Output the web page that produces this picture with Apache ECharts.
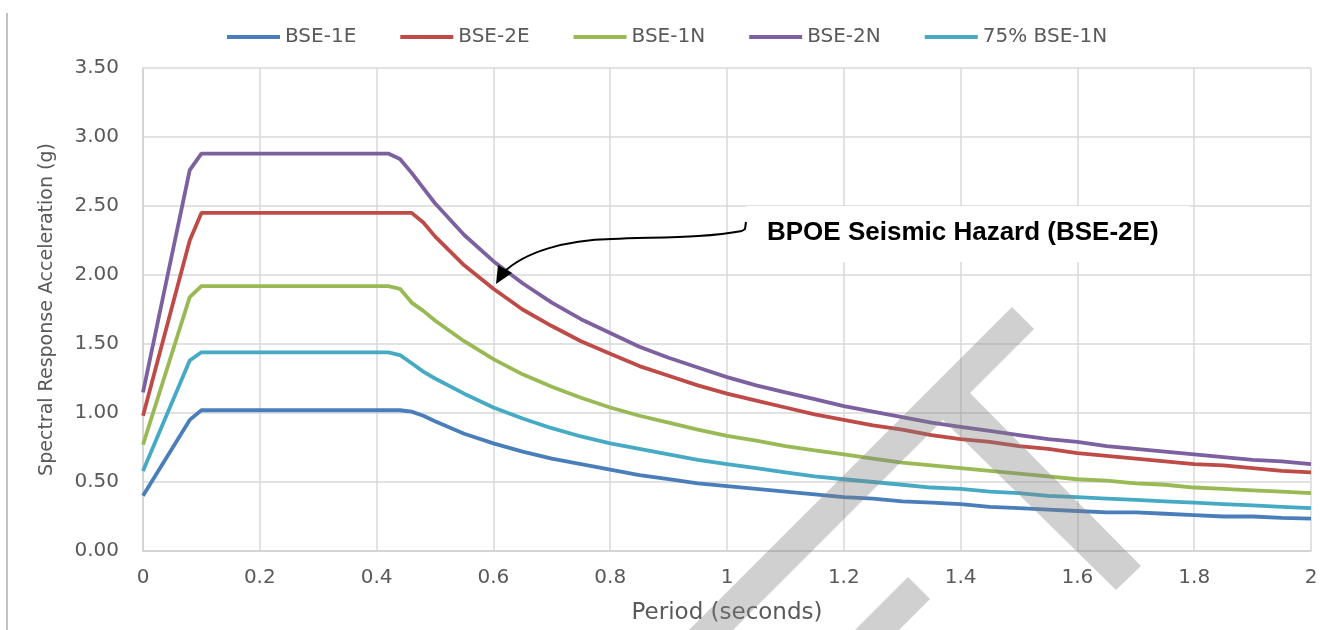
<!DOCTYPE html>
<html>
<head>
<meta charset="utf-8">
<script src="https://cdn.jsdelivr.net/npm/echarts@6/dist/echarts.min.js"></script>
<style>
html,body{margin:0;padding:0;background:#fff;}
#chart{width:1336px;height:630px;}
</style>
</head>
<body>
<div id="chart"></div>
<script>
// Period (seconds)
var periods = [0, 0.08, 0.1, 0.42, 0.44, 0.46, 0.48, 0.5, 0.55, 0.6, 0.65, 0.7, 0.75, 0.8, 0.85, 0.9, 0.95, 1.0, 1.05, 1.1, 1.15, 1.2, 1.25, 1.3, 1.35, 1.4, 1.45, 1.5, 1.55, 1.6, 1.65, 1.7, 1.75, 1.8, 1.85, 1.9, 1.95, 2.0];
var seriesNames = ['BSE-1E', 'BSE-2E', 'BSE-1N', 'BSE-2N', '75% BSE-1N'];
var bse1e = [0.40, 0.95, 1.02, 1.02, 1.02, 1.01, 0.98, 0.94, 0.85, 0.78, 0.72, 0.67, 0.63, 0.59, 0.55, 0.52, 0.49, 0.47, 0.45, 0.43, 0.41, 0.39, 0.38, 0.36, 0.35, 0.34, 0.32, 0.31, 0.30, 0.29, 0.28, 0.28, 0.27, 0.26, 0.25, 0.25, 0.24, 0.235];
var bse2e = [0.98, 2.25, 2.45, 2.45, 2.45, 2.45, 2.38, 2.28, 2.07, 1.90, 1.75, 1.63, 1.52, 1.43, 1.34, 1.27, 1.20, 1.14, 1.09, 1.04, 0.99, 0.95, 0.91, 0.88, 0.84, 0.81, 0.79, 0.76, 0.74, 0.71, 0.69, 0.67, 0.65, 0.63, 0.62, 0.60, 0.58, 0.57];
var bse1n = [0.77, 1.84, 1.92, 1.92, 1.90, 1.80, 1.74, 1.67, 1.52, 1.39, 1.28, 1.19, 1.11, 1.04, 0.98, 0.93, 0.88, 0.835, 0.80, 0.76, 0.73, 0.70, 0.67, 0.64, 0.62, 0.60, 0.58, 0.56, 0.54, 0.52, 0.51, 0.49, 0.48, 0.46, 0.45, 0.44, 0.43, 0.42];
var bse2n = [1.15, 2.76, 2.88, 2.88, 2.84, 2.74, 2.63, 2.52, 2.29, 2.10, 1.94, 1.80, 1.68, 1.58, 1.48, 1.40, 1.33, 1.26, 1.20, 1.15, 1.10, 1.05, 1.01, 0.97, 0.93, 0.90, 0.87, 0.84, 0.81, 0.79, 0.76, 0.74, 0.72, 0.70, 0.68, 0.66, 0.65, 0.63];
var bse1n75 = [0.58, 1.38, 1.44, 1.44, 1.42, 1.36, 1.30, 1.25, 1.14, 1.04, 0.96, 0.89, 0.83, 0.78, 0.74, 0.70, 0.66, 0.63, 0.60, 0.57, 0.54, 0.52, 0.50, 0.48, 0.46, 0.45, 0.43, 0.42, 0.40, 0.39, 0.38, 0.37, 0.36, 0.35, 0.34, 0.33, 0.32, 0.31];
var annotationText = 'BPOE Seismic Hazard (BSE-2E)';

var colors = ['#4A7EBB', '#BE4B48', '#98B954', '#7D60A0', '#46AAC5'];
var values = [bse1e, bse2e, bse1n, bse2n, bse1n75];

function pairs(vals) {
  return periods.map(function (p, i) { return [p, vals[i]]; });
}

var chart = echarts.init(document.getElementById('chart'));
var font = 'DejaVu Sans';
var series = seriesNames.map(function (n, k) {
  return {
    name: n, type: 'line', data: pairs(values[k]),
    showSymbol: false, symbol: 'none',
    lineStyle: { color: colors[k], width: 3.8 },
    itemStyle: { color: colors[k] },
    z: 3
  };
});

chart.setOption({
  animation: false,
  backgroundColor: '#ffffff',
  color: colors,
  grid: { left: 143, right: 25, top: 68, bottom: 78, containLabel: false },
  legend: {
    data: seriesNames,
    left: 222, top: 22,
    icon: 'rect', itemWidth: 53, itemHeight: 4, itemGap: 44,
    textStyle: { color: '#595959', fontSize: 20, fontFamily: font }
  },
  xAxis: {
    type: 'value', min: 0, max: 2, interval: 0.2,
    name: 'Period (seconds)', nameLocation: 'middle', nameGap: 51,
    nameTextStyle: { color: '#595959', fontSize: 23, fontFamily: font },
    axisLine: { show: true, lineStyle: { color: '#D0D0D0', width: 1.5 } },
    axisTick: { show: false },
    axisLabel: { color: '#595959', fontSize: 20, fontFamily: font, margin: 17 },
    splitLine: { show: true, lineStyle: { color: '#D9D9D9', width: 1.5 } }
  },
  yAxis: {
    type: 'value', min: 0, max: 3.5, interval: 0.5,
    name: 'Spectral Response Acceleration (g)', nameLocation: 'middle', nameGap: 86,
    nameTextStyle: { color: '#595959', fontSize: 19, fontFamily: font },
    axisLine: { show: true, lineStyle: { color: '#D0D0D0', width: 1.5 } },
    axisTick: { show: false },
    axisLabel: { color: '#595959', fontSize: 20, fontFamily: font, margin: 24,
      formatter: function (v) { return v.toFixed(2); } },
    splitLine: { show: true, lineStyle: { color: '#D9D9D9', width: 1.5 } }
  },
  series: series,
  graphic: [
    { type: 'line', z: 50, shape: { x1: 7, y1: 13, x2: 7, y2: 630 }, style: { stroke: '#9A9A9A', lineWidth: 1.2 } },
    { type: 'rect', z: 50, shape: { x: 746, y: 206, width: 444, height: 56 }, style: { fill: '#ffffff' } },
    { type: 'text', z: 51, x: 767, y: 233, style: { text: annotationText, fill: '#000000', font: 'bold 26px "Liberation Sans", Arial, sans-serif', textVerticalAlign: 'middle', verticalAlign: 'middle' } },
    { type: 'polyline', z: 51, shape: { points: [[746, 222], [745, 229], [742, 231]] }, style: { stroke: '#000', lineWidth: 2, fill: null } },
    { type: 'bezierCurve', z: 51, shape: { x1: 742, y1: 231, cpx1: 705, cpy1: 238, cpx2: 660, cpy2: 237, x2: 612, y2: 239 }, style: { stroke: '#000', lineWidth: 2, fill: null } },
    { type: 'bezierCurve', z: 51, shape: { x1: 612, y1: 239, cpx1: 565, cpy1: 240, cpx2: 525, cpy2: 252, x2: 504, y2: 272 }, style: { stroke: '#000', lineWidth: 2, fill: null } },
    { type: 'polygon', z: 52, shape: { points: [[496, 284], [498, 265], [512, 273]] }, style: { fill: '#000' } },
    // grey watermark strokes
    { type: 'polygon', z: 60, shape: { points: [[1012, 307], [1034, 329], [716, 647], [672, 647]] }, style: { fill: 'rgba(128,128,128,0.37)' } },
    { type: 'polygon', z: 60, shape: { points: [[970, 393], [1141, 566], [1116, 590], [943, 420]] }, style: { fill: 'rgba(128,128,128,0.37)' } },
    { type: 'polygon', z: 60, shape: { points: [[908, 577], [930, 599], [899, 630], [855, 630]] }, style: { fill: 'rgba(128,128,128,0.37)' } }
  ]
});
</script>
</body>
</html>
